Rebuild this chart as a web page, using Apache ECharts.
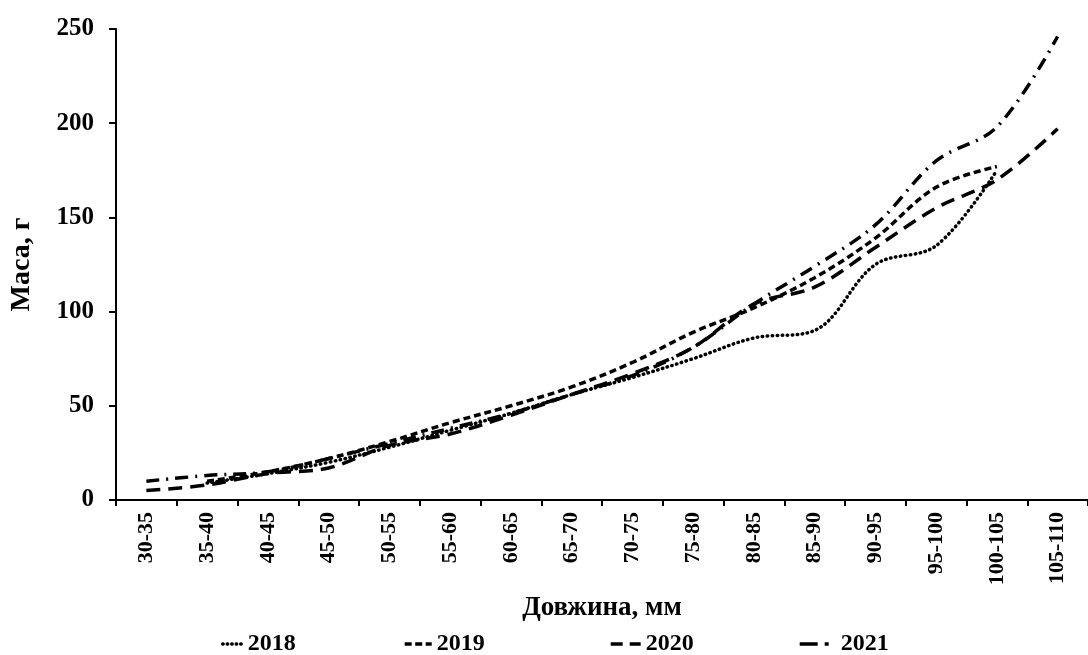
<!DOCTYPE html>
<html><head><meta charset="utf-8">
<script src="https://cdn.jsdelivr.net/npm/echarts@6/dist/echarts.min.js"></script>
<style>html,body{margin:0;padding:0;background:#fff}#c{width:1088px;height:655px}</style>
</head><body><div id="c"></div>
<script>
const categories = ['30-35','35-40','40-45','45-50','50-55','55-60','60-65','65-70','70-75','75-80','80-85','85-90','90-95','95-100','100-105','105-110'];
const s2018 = [null, 9, 14, 20, 28, 37, 46, 56, 65, 75, 86, 90, 125, 135, 175, null];
const s2019 = [null, 10, 15, 22, 31, 41, 50, 60, 73, 89, 102, 118, 139, 166, 177, null];
const s2020 = [5, 8, 14, 17, 29, 35, 45, 56, 67, 81, 104, 113, 134, 155, 170, 197];
const s2021 = [10, 13, 15, 22, 30, 38, 46, 56, 66, 81, 104, 124, 146, 180, 198, 246];
const yTicks = [0, 50, 100, 150, 200, 250];

const F = 'Liberation Serif';
const chart = echarts.init(document.getElementById('c'));
const mk = (name, data, type, w, cap) => ({
  name, type: 'line', data, smooth: 0.35, symbol: 'none', showSymbol: false, connectNulls: false,
  lineStyle: { color: '#000', width: w, type: type, cap: cap || 'butt' },
  itemStyle: { color: '#000' }
});
const leg = (name, left, iw, dash, cap) => ({
  data: [name], orient: 'horizontal', left: left, top: 627, itemWidth: iw, itemHeight: 14, itemGap: 2,
  itemStyle: { opacity: 0 },
  lineStyle: { color: '#000', width: 3.4, type: dash, cap: cap || 'butt' },
  textStyle: { fontFamily: F, fontWeight: 'bold', fontSize: 24, color: '#000' }
});
chart.setOption({
  animation: false,
  grid: { left: 116, right: -7, top: 29, bottom: 155, containLabel: false },
  legend: [
    leg('2018', 216, 20, [0.5, 4], 'round'),
    leg('2019', 398, 27, [7, 3.5]),
    leg('2020', 604, 30, [12, 7]),
    leg('2021', 793, 36, [18, 7, 4, 30])
  ],
  xAxis: {
    type: 'category', data: categories, boundaryGap: true,
    name: 'Довжина, мм', nameLocation: 'middle', nameGap: 95,
    nameTextStyle: { fontFamily: F, fontWeight: 'bold', fontSize: 27, color: '#000' },
    axisLine: { lineStyle: { color: '#000', width: 2 } },
    axisTick: { show: true, length: 6, lineStyle: { color: '#000', width: 2 } },
    axisLabel: { rotate: 90, fontFamily: F, fontWeight: 'bold', fontSize: 22, color: '#000', margin: 12, interval: 0 }
  },
  yAxis: {
    type: 'value', min: 0, max: 250, interval: 50,
    name: 'Маса, г', nameLocation: 'middle', nameGap: 80, nameRotate: 90,
    nameTextStyle: { fontFamily: F, fontWeight: 'bold', fontSize: 28, color: '#000' },
    axisLine: { show: true, lineStyle: { color: '#000', width: 2 } },
    axisTick: { show: true, length: 7, lineStyle: { color: '#000', width: 2 } },
    axisLabel: { fontFamily: F, fontWeight: 'bold', fontSize: 25, color: '#000', margin: 22,
      formatter: v => yTicks.includes(v) ? String(v) : '' },
    splitLine: { show: false }
  },
  series: [
    mk('2018', s2018, [0.5, 4.5], 3.5, 'round'),
    mk('2019', s2019, [7, 4], 3.5),
    mk('2020', s2020, [14, 8], 3.5),
    mk('2021', s2021, [13, 7, 2, 7], 3.5)
  ]
});
</script></body></html>
